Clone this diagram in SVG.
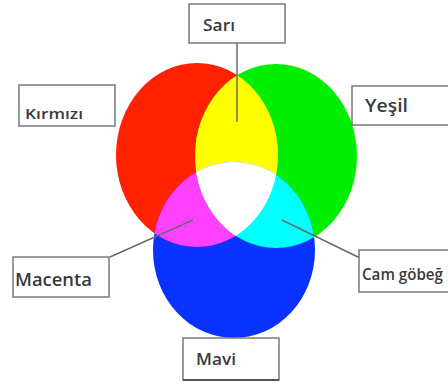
<svg xmlns="http://www.w3.org/2000/svg" width="448" height="390" viewBox="0 0 448 390">
<style>
.box{fill:#fff;stroke:#7a7a7a;stroke-width:1.5}
.lbl{font-family:"Open Sans","Liberation Sans",Arial,sans-serif;fill:#3a3a3a;font-weight:600}
.con{stroke:#6a6a6a;stroke-width:1.5;fill:none}
</style>
<defs>
<clipPath id="cR"><ellipse cx="197" cy="155" rx="81" ry="92"/></clipPath>
<clipPath id="cG"><ellipse cx="276" cy="156" rx="81" ry="92"/></clipPath>
<ellipse id="eB" cx="234" cy="250" rx="81" ry="88"/>
</defs>
<g id="circles">
<ellipse cx="197" cy="155" rx="81" ry="92" fill="#ff2200"/>
<ellipse cx="276" cy="156" rx="81" ry="92" fill="#00ee00"/>
<use href="#eB" fill="#0a32ff"/>
<g clip-path="url(#cR)"><ellipse cx="276" cy="156" rx="81" ry="92" fill="#ffff00"/></g>
<g clip-path="url(#cR)"><use href="#eB" fill="#ff40ff"/></g>
<g clip-path="url(#cG)"><use href="#eB" fill="#00ffff"/></g>
<g clip-path="url(#cR)"><g clip-path="url(#cG)"><use href="#eB" fill="#ffffff"/></g></g>
</g>
<g id="connectors">
<line class="con" x1="237" y1="43" x2="237" y2="122"/>
<line class="con" x1="110" y1="257" x2="193" y2="220"/>
<line class="con" x1="282" y1="220" x2="360" y2="258"/>
</g>
<g id="sari"><rect class="box" x="189" y="4" width="96" height="39"/><text class="lbl" x="203" y="31" font-size="17" textLength="32" lengthAdjust="spacingAndGlyphs">Sarı</text></g>
<g id="kirmizi"><rect class="box" x="19" y="85" width="96" height="41"/><text class="lbl" x="25" y="119" font-size="15" textLength="58" lengthAdjust="spacingAndGlyphs">Kırmızı</text></g>
<g id="yesil"><rect class="box" x="352" y="86" width="100" height="39"/><text class="lbl" x="365" y="112" font-size="18" textLength="43" lengthAdjust="spacingAndGlyphs">Yeşil</text></g>
<g id="macenta"><rect class="box" x="13" y="257" width="96" height="40"/><text class="lbl" x="15" y="286" font-size="18" font-weight="500" textLength="77" lengthAdjust="spacingAndGlyphs">Macenta</text></g>
<g id="camgobegi"><rect class="box" x="359" y="250" width="95" height="42"/><text class="lbl" x="362" y="280" font-size="16" font-weight="500" textLength="81" lengthAdjust="spacingAndGlyphs">Cam göbeğ</text></g>
<g id="mavi"><rect class="box" x="183" y="338" width="96" height="42"/><line x1="183" y1="380" x2="279" y2="380" stroke="#555" stroke-width="2"/><text class="lbl" x="196" y="365" font-size="16" textLength="40" lengthAdjust="spacingAndGlyphs">Mavi</text></g>
</svg>
